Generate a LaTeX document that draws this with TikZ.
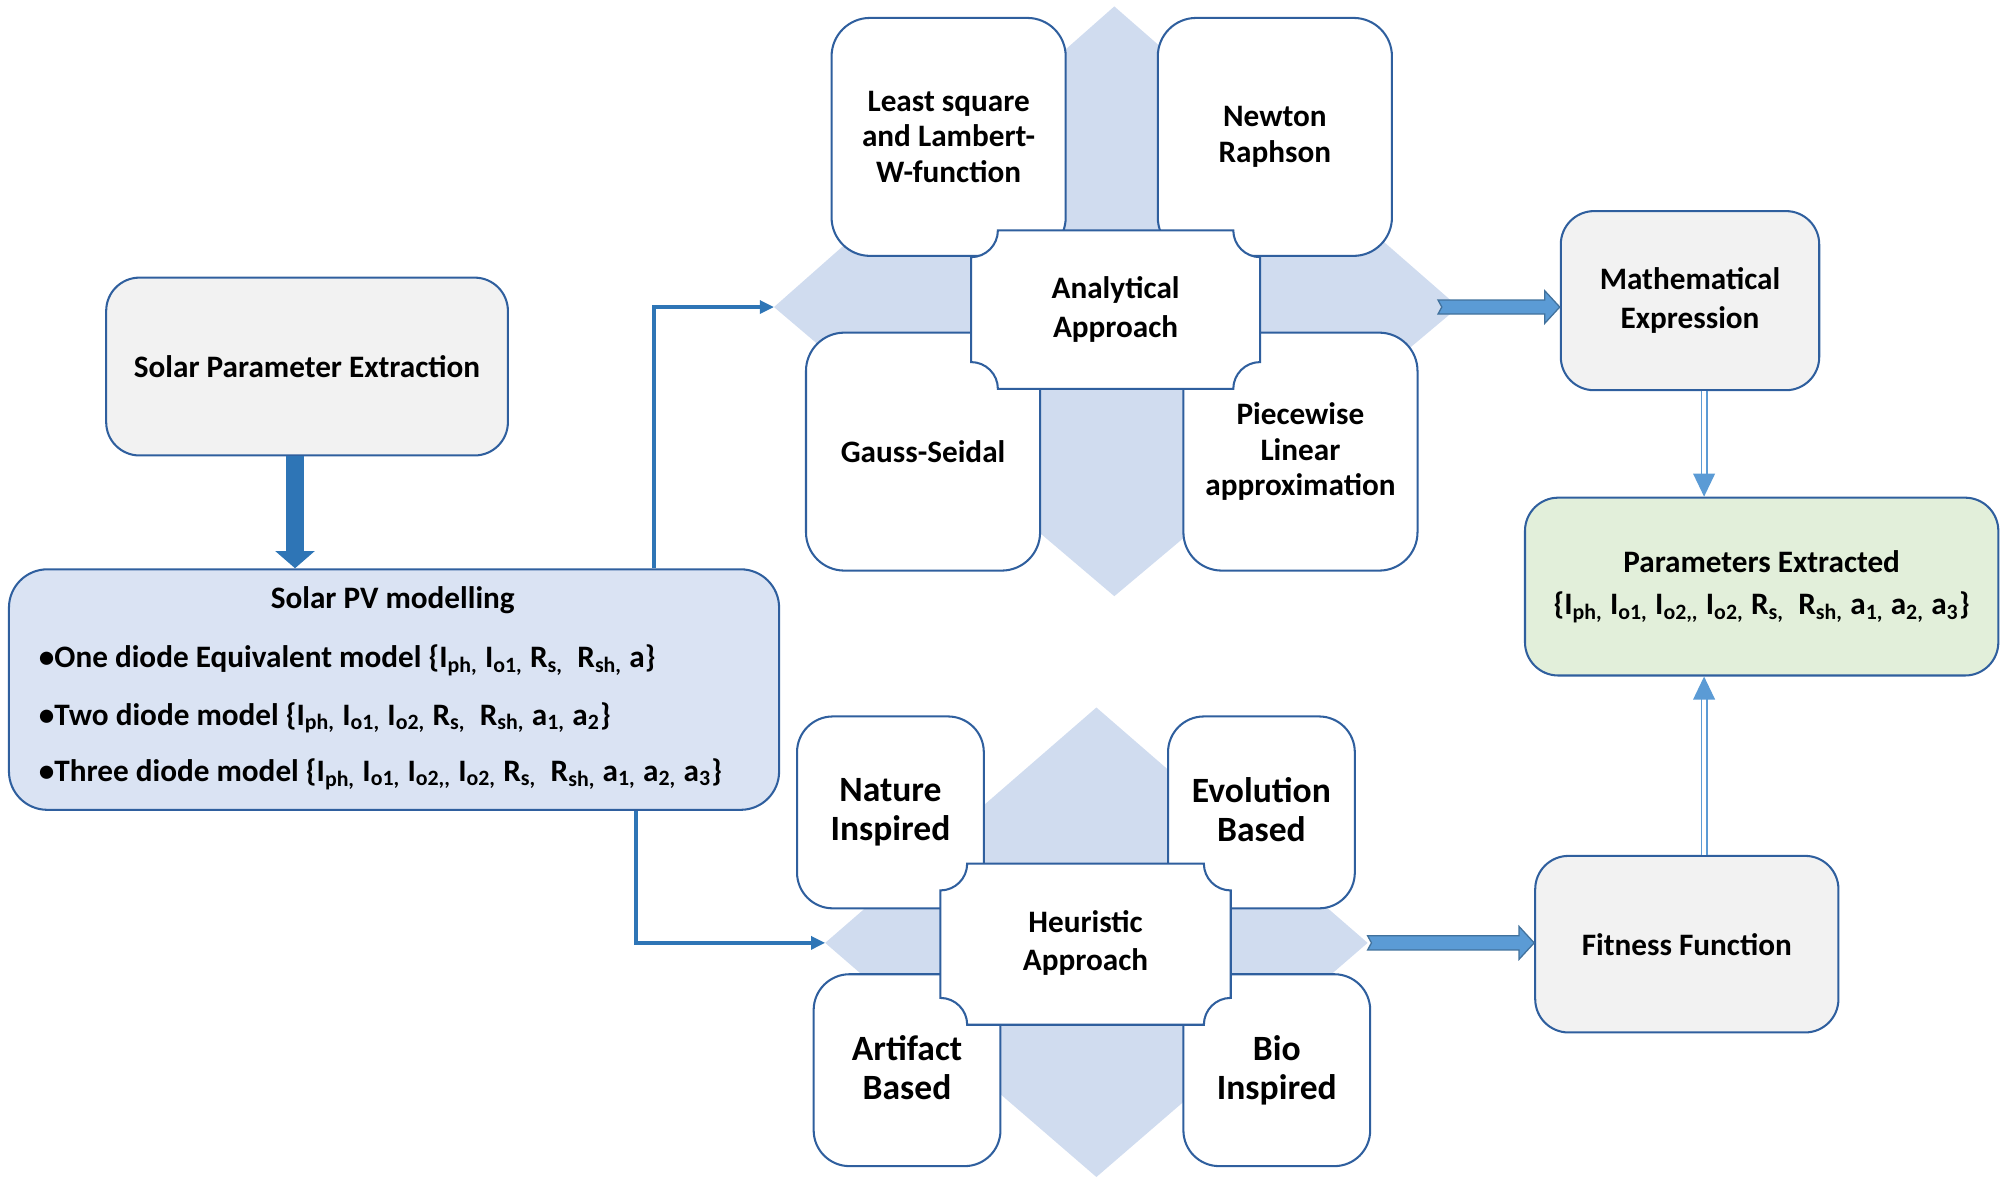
\documentclass[tikz,border=0pt]{standalone}
\usepackage{fontspec}
\setmainfont{Carlito}
\usetikzlibrary{arrows.meta,calc}
\definecolor{bord}{HTML}{2F5F9E}
\definecolor{connc}{HTML}{2E75B6}
\definecolor{dfill}{HTML}{D0DCEF}
\definecolor{pvfill}{HTML}{DAE3F3}
\definecolor{gfill}{HTML}{F2F2F2}
\definecolor{grfill}{HTML}{E2EFDA}
\definecolor{arrfill}{HTML}{5B9BD5}
\definecolor{arrline}{HTML}{41719C}

\newcommand\myplaque[5]{%
  \filldraw[plq] (#1+#5,#4) -- (#3-#5,#4) arc[start angle=180,end angle=270,radius=#5]
    -- (#3,#2+#5) arc[start angle=90,end angle=180,radius=#5]
    -- (#1+#5,#2) arc[start angle=0,end angle=90,radius=#5]
    -- (#1,#4-#5) arc[start angle=270,end angle=360,radius=#5] -- cycle;}

\newcommand\blkarrow[2]{%
  \path (#1) coordinate (ba-s) (#2) coordinate (ba-e);
  \draw[blk] ($(ba-s)+(0,2.75)$) -- ($(ba-e)+(-5.9,2.75)$) -- ($(ba-e)+(-5.9,6.4)$)
    -- (ba-e) -- ($(ba-e)+(-5.9,-6.4)$) -- ($(ba-e)+(-5.9,-2.75)$)
    -- ($(ba-s)+(0,-2.75)$) -- ($(ba-s)+(1.5,0)$) -- cycle;}

\begin{document}
\begin{tikzpicture}[x=1pt,y=1pt,
  txt/.style={font=\bfseries\fontsize{12.2}{15}\selectfont, align=center, text=black, inner sep=0pt},
  big/.style={font=\bfseries\fontsize{13.9}{15.5}\selectfont},
  tight/.style={font=\bfseries\fontsize{12.2}{13.75}\selectfont},
  rbox/.style={txt, draw=bord, line width=0.8pt, rounded corners=#1},
  rbox/.default=15pt,
  sub/.style={rbox, fill=white, minimum width=91.5pt, minimum height=93pt},
  hsub/.style={rbox=14pt, fill=white, big, minimum width=73pt, minimum height=75pt},
  plq/.style={draw=bord, line width=0.8pt, fill=white},
  link/.style={draw=connc, line width=1.4pt, -{Triangle[length=5.5pt,width=5pt]}},
  fat/.style={draw=connc, line width=7pt, -{Triangle[length=6.7pt,width=15pt]}},
  dbl/.style={draw=arrfill, line width=0.55pt, double=white, double distance=1.6pt, -{Triangle[length=9pt,width=8.5pt]}},
  blk/.style={fill=arrfill, draw=arrline, line width=0.5pt},
  dia/.style={fill=dfill}
]
\useasboundingbox (0,0) rectangle (784,-463.5);

% helper columns
\coordinate (colL) at (115.3,0);
\coordinate (c1) at (255.5,0);
\coordinate (c2) at (248.5,0);
\coordinate (colR) at (666,0);

% diamonds
\fill[dia] (302.5,-120) coordinate (dAl) -- (435.5,-2.5) -- (570,-120) coordinate (dAr) -- (435.5,-233) -- cycle;
\fill[dia] (322.5,-368.5) coordinate (dHl) -- (428.5,-276.5) -- (534.5,-368.5) coordinate (dHr) -- (428.5,-460) -- cycle;

% analytical cluster
\node[sub, tight] (ls) at (370.75,-53.5) {\vphantom{Ay}\\[-13.75pt]Least square\\and Lambert-\\W-function};
\node[sub, tight] (nr) at (498.25,-53.5) {Newton\\Raphson};
\node[sub, tight] (gs) at (360.75,-176.5) {Gauss-Seidal};
\node[sub, tight] (pw) at (508.25,-176.5) {Piecewise\\Linear\\approximation};
\myplaque{379.5}{-152}{492.5}{-90}{10.5}
\node[txt] (aa) at (436,-121) {Analytical\\Approach};

% heuristic cluster
\node[hsub] (ni) at (348,-317.5) {Nature\\Inspired};
\node[hsub] (eb) at (493,-317.5) {Evolution\\Based\vphantom{p}};
\node[hsub] (ab) at (354.5,-418.25) {Artifact\\Based\vphantom{p}};
\node[hsub] (bi) at (499,-418.25) {Bio\\Inspired};
\myplaque{367.5}{-400.5}{481}{-337.5}{10.5}
\node[txt] (ha) at (424.25,-368.5) {Heuristic\\Approach};

% left boxes
\node[rbox=13pt, fill=gfill, minimum width=157pt, minimum height=69.5pt] (spe) at (120,-143.25) {Solar Parameter Extraction};
\node[rbox, fill=pvfill, minimum width=301pt, minimum height=94pt] (pv) at (154,-269.5) {};
\node[txt] (pvt) at (153.5,-234.5) {Solar PV modelling};
\node[txt, anchor=west] (b1) at (15,-258) {\textbullet One diode Equivalent model \{I\textsubscript{ph,} I\textsubscript{o1,} R\textsubscript{s,} ~R\textsubscript{sh,} a\}};
\node[txt, anchor=west] (b2) at (15,-280.5) {\textbullet Two diode model \{I\textsubscript{ph,} I\textsubscript{o1,} I\textsubscript{o2,} R\textsubscript{s,} ~R\textsubscript{sh,} a\textsubscript{1,} a\textsubscript{2}\}};
\node[txt, anchor=west] (b3) at (15,-302.5) {\textbullet Three diode model \{I\textsubscript{ph,} I\textsubscript{o1,} I\textsubscript{o2,{},} I\textsubscript{o2,} R\textsubscript{s,} ~R\textsubscript{sh,} a\textsubscript{1,} a\textsubscript{2,} a\textsubscript{3}\}};

% right boxes
\node[rbox=13pt, fill=gfill, minimum width=101pt, minimum height=70pt] (me) at (660.5,-117.5) {Mathematical\\Expression};
\node[rbox=13pt, fill=grfill, minimum width=185pt, minimum height=69.5pt, font=\bfseries\fontsize{12.2}{16.5}\selectfont] (pe) at (688.5,-229.25) {Parameters Extracted\\\{I\textsubscript{ph,} I\textsubscript{o1,} I\textsubscript{o2,{},} I\textsubscript{o2,} R\textsubscript{s,} ~R\textsubscript{sh,} a\textsubscript{1,} a\textsubscript{2,} a\textsubscript{3}\}};
\node[rbox=13pt, fill=gfill, minimum width=118.5pt, minimum height=69pt] (ff) at (659.25,-369) {Fitness Function};

% connectors
\draw[fat] (spe.south -| colL) -- (pv.north -| colL);
\draw[link] (pv.north -| c1) |- (dAl);
\draw[link] (pv.south -| c2) |- (dHl);
\blkarrow{$(dAr)+(-8,0)$}{me.west |- dAr}
\blkarrow{dHr}{ff.west |- dHr}
\draw[dbl] (me.south -| colR) -- (pe.north -| colR);
\draw[dbl] (ff.north -| colR) -- (pe.south -| colR);
\end{tikzpicture}
\end{document}
